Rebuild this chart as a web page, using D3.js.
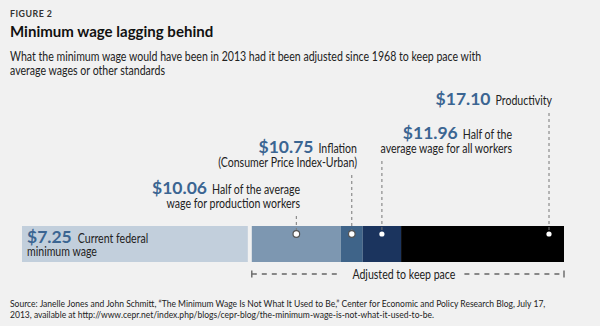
<!DOCTYPE html>
<html>
<head>
<meta charset="utf-8">
<script src="https://cdn.jsdelivr.net/npm/d3@7"></script>
<style>
  html, body { margin: 0; padding: 0; background: #f1f1f1; }
  svg { display: block; }
</style>
</head>
<body>
<div id="chart"></div>
<script>
// values
const wageValues = [7.25, 10.06, 10.75, 11.96, 17.10];
const wageNotes = [
  ["Current federal", "minimum wage"],
  ["Half of the average", "wage for production workers"],
  ["Inflation", "(Consumer Price Index-Urban)"],
  ["Half of the", "average wage for all workers"],
  ["Productivity"]
];
const bracketLabel = "Adjusted to keep pace";
const titleLines = ["FIGURE 2", "Minimum wage lagging behind"];
const subtitleLines = [
  "What the minimum wage would have been in 2013 had it been adjusted since 1968 to keep pace with",
  "average wages or other standards"
];
const sourceLines = [
  "Source: Janelle Jones and John Schmitt, \u201cThe Minimum Wage Is Not What It Used to Be,\u201d Center for Economic and Policy Research Blog, July 17,",
  "2013, available at http://www.cepr.net/index.php/blogs/cepr-blog/the-minimum-wage-is-not-what-it-used-to-be."
];

const width = 600, height = 326;
const font = "Lato, 'Open Sans', sans-serif";
const bg = "#f1f1f1";
const ink = "#222";
const blue = "#3b6592";
const colors = ["#c2cfdc", "#7d97b1", "#3f6489", "#1b345e", "#000000"];
const squeeze = 0.84; // the original face is narrower than Lato

const barTop = 226, barH = 36;
const gap = 4;
const noteSize = 12.6, dollarSize = 17.5, lineStep = 14;
// label blocks: right edge of text block, first baseline (layout only)
const labelPos = [null, [300, 194], [357, 153], [512, 139], [552, 105]];

const x = d3.scaleLinear().domain([0, d3.max(wageValues)]).range([22, 564]);
const fmt = d3.format("$.2f");

const svg = d3.select("#chart").append("svg")
    .attr("width", width)
    .attr("height", height)
    .attr("viewBox", [0, 0, width, height])
    .style("font-family", font);

svg.append("rect").attr("width", width).attr("height", height).attr("fill", bg);

// narrow text: placed with a transform so it can be squeezed horizontally
function note(parent, tx, ty, str, size, anchor = "start", k = squeeze) {
  const t = parent.append("text")
      .attr("transform", `translate(${tx},${ty}) scale(${k},1)`)
      .attr("text-anchor", anchor)
      .attr("font-size", size)
      .attr("fill", ink)
      .text(str);
  return t;
}
const widthOf = (t, k = squeeze) => t.node().getComputedTextLength() * k;

// header
svg.append("text").attr("x", 10).attr("y", 17)
    .attr("font-size", 8.8).attr("font-weight", 700).attr("fill", "#333")
    .attr("letter-spacing", 0.5)
    .text(titleLines[0]);
note(svg, 10, 37, titleLines[1], 16, "start", 0.94)
    .attr("font-weight", 700).attr("fill", "#111");
subtitleLines.forEach((s, i) => note(svg, 10, 61 + i * 14, s, noteSize));

// segments: base wage, then the increments stacked after a small gap
const segs = wageValues.map((v, i) => ({
  v,
  x0: i === 0 ? x(0) : x(wageValues[i - 1]),
  x1: i === 0 ? x(v) - gap : x(v)
}));

svg.append("g").selectAll("rect")
  .data(segs)
  .join("rect")
    .attr("x", d => d.x0)
    .attr("y", barTop)
    .attr("width", d => d.x1 - d.x0)
    .attr("height", barH)
    .attr("fill", (d, i) => colors[i]);

// markers: middle of each segment, last one sits near the end
const markers = segs.slice(1).map((d, i, a) => ({
  i: i + 1,
  cx: i === a.length - 1 ? d.x1 - 15 : (d.x0 + d.x1) / 2
}));

// leader lines
svg.append("g").selectAll("line")
  .data(markers)
  .join("line")
    .attr("x1", d => d.cx).attr("x2", d => d.cx)
    .attr("y1", d => labelPos[d.i][1] + (wageNotes[d.i].length - 1) * lineStep + 8)
    .attr("y2", barTop + 8)
    .attr("stroke", "#777")
    .attr("stroke-width", 1)
    .attr("stroke-dasharray", "3,3");

svg.append("g").selectAll("circle")
  .data(markers)
  .join("circle")
    .attr("cx", d => d.cx)
    .attr("cy", barTop + 8)
    .attr("r", d => d.i < 3 ? 3.3 : 2.6)
    .attr("fill", "#fff")
    .attr("stroke", d => d.i < 3 ? "#555" : "none")
    .attr("stroke-width", 1.2);

// labels for the adjusted values (right aligned blocks)
const labelG = svg.append("g");
markers.forEach(d => {
  const [rx, by] = labelPos[d.i];
  const lines = wageNotes[d.i];
  const first = note(labelG, rx, by, lines[0], noteSize, "end");
  lines.slice(1).forEach((t, k) => note(labelG, rx, by + (k + 1) * lineStep, t, noteSize, "end"));
  labelG.append("text")
      .attr("x", rx - widthOf(first) - 5)
      .attr("y", by)
      .attr("text-anchor", "end")
      .attr("font-size", dollarSize).attr("font-weight", 700).attr("fill", blue)
      .text(fmt(wageValues[d.i]));
});

// current minimum wage label inside its bar
const baseDollar = svg.append("text").attr("x", x(0) + 5).attr("y", barTop + 17)
    .attr("font-size", dollarSize).attr("font-weight", 700).attr("fill", blue)
    .text(fmt(wageValues[0]));
note(svg, x(0) + 5 + baseDollar.node().getComputedTextLength() + 6, barTop + 17, wageNotes[0][0], noteSize);
note(svg, x(0) + 5, barTop + 30, wageNotes[0][1], noteSize);

// bracket under the adjusted part
const bx0 = x(wageValues[0]), bx1 = x(d3.max(wageValues));
const by = 274;
const mid = (bx0 + bx1) / 2 - 4;
const bl = note(svg, mid, by + 4.5, bracketLabel, noteSize, "middle");
const half = widthOf(bl) / 2;
const bracket = svg.append("g").attr("stroke", "#666").attr("stroke-width", 1.4);
bracket.selectAll("line.run")
  .data([[bx0, mid - half - 11], [mid + half + 9, bx1]])
  .join("line")
    .attr("class", "run")
    .attr("x1", d => d[0]).attr("x2", d => d[1])
    .attr("y1", by).attr("y2", by)
    .attr("stroke-dasharray", "5,5");
bracket.selectAll("line.cap")
  .data([bx0, bx1])
  .join("line")
    .attr("class", "cap")
    .attr("x1", d => d).attr("x2", d => d)
    .attr("y1", by - 3.5).attr("y2", by + 3.5);

// source note
sourceLines.forEach((s, i) => note(svg, 10, 307 + i * 11, s, 8.8, "start", 0.97));
</script>
</body>
</html>
